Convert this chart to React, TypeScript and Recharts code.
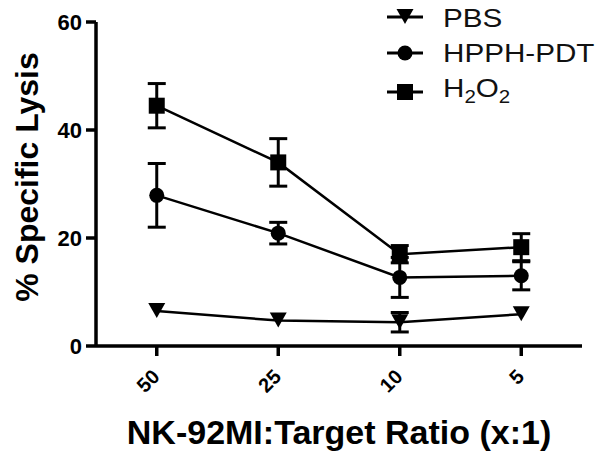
import React from 'react';
import { LineChart, Line, XAxis, YAxis, ErrorBar, Label } from 'recharts';

const ratios = ['50', '25', '10', '5'];
const pbs = [6.5, 4.7, 4.4, 5.9];
const pbsErr = [null, null, 1.8, null];
const hpph = [27.9, 20.9, 12.7, 13.0];
const hpphErr = [5.9, 2.0, 3.7, 2.6];
const h2o2 = [44.5, 34.0, 17.0, 18.3];
const h2o2Err = [4.1, 4.4, 1.6, 2.5];
const yTicks = [0, 20, 40, 60];
const seriesNames = ['PBS', 'HPPH-PDT', 'H2O2'];

const data = ratios.map((r, i) => ({
  ratio: r,
  pbs: pbs[i],
  pbsErr: pbsErr[i],
  hpph: hpph[i],
  hpphErr: hpphErr[i],
  h2o2: h2o2[i],
  h2o2Err: h2o2Err[i],
}));

const FONT = '"Liberation Sans", Arial, Helvetica, sans-serif';

const SquareMark = ({ cx, cy }: { cx: number; cy: number }) => (
  <rect x={cx - 8} y={cy - 8} width={16} height={16} fill="#000" />
);
const CircleMark = ({ cx, cy }: { cx: number; cy: number }) => (
  <circle cx={cx} cy={cy} r={7.5} fill="#000" />
);
const TriMark = ({ cx, cy }: { cx: number; cy: number }) => (
  <polygon points={`${cx - 8.5},${cy - 8} ${cx + 8.5},${cy - 8} ${cx},${cy + 7}`} fill="#000" />
);

const renderSquare = (p: any) => <SquareMark key={`sq-${p.index}`} cx={p.cx} cy={p.cy} />;
const renderCircle = (p: any) => <CircleMark key={`ci-${p.index}`} cx={p.cx} cy={p.cy} />;
const renderTri = (p: any) => <TriMark key={`tr-${p.index}`} cx={p.cx} cy={p.cy} />;

const XTick = (p: any) => {
  const x = p.x + 4;
  const y = p.y + 20;
  return (
    <text
      x={x}
      y={y}
      transform={`rotate(-45, ${x}, ${y})`}
      textAnchor="end"
      fontFamily={FONT}
      fontWeight="bold"
      fontSize={20}
      fill="#000"
    >
      {p.payload.value}
    </text>
  );
};

const XTitle = (p: any) => {
  const vb = p.viewBox;
  return (
    <text
      x={vb.x + vb.width / 2}
      y={vb.y + 98}
      textAnchor="middle"
      fontFamily={FONT}
      fontWeight="bold"
      fontSize={34}
      fill="#000"
    >
      NK-92MI:Target Ratio (x:1)
    </text>
  );
};

const YTitle = (p: any) => {
  const vb = p.viewBox;
  const x = 38;
  const y = vb.y + vb.height / 2 - 7;
  return (
    <text
      x={x}
      y={y}
      transform={`rotate(-90, ${x}, ${y})`}
      textAnchor="middle"
      fontFamily={FONT}
      fontWeight="bold"
      fontSize={32}
      fill="#000"
    >
      % Specific Lysis
    </text>
  );
};

const LegendBox = () => {
  const rows = [
    { name: seriesNames[0], mark: TriMark, my: 17, ty: 27 },
    { name: seriesNames[1], mark: CircleMark, my: 53, ty: 62 },
    { name: seriesNames[2], mark: SquareMark, my: 92, ty: 97 },
  ];
  return (
    <svg
      width={601}
      height={457}
      style={{ position: 'absolute', left: 0, top: 0, pointerEvents: 'none' }}
    >
      {rows.map((r, i) => {
        const M = r.mark;
        return (
          <g key={i}>
            <line x1={387} x2={423} y1={r.my} y2={r.my} stroke="#000" strokeWidth={3} />
            <M cx={405} cy={r.my} />
            <g transform={`translate(443, ${r.ty}) scale(1.14, 1)`}>
              <text x={0} y={0} fontFamily={FONT} fontSize={26} fill="#111">
                {r.name === 'H2O2' ? (
                  <>
                    H<tspan fontSize={18} dy={6}>2</tspan>
                    <tspan dy={-6}>O</tspan>
                    <tspan fontSize={18} dy={6}>2</tspan>
                  </>
                ) : (
                  r.name
                )}
              </text>
            </g>
          </g>
        );
      })}
    </svg>
  );
};

export default function App() {
  return (
    <div style={{ position: 'absolute', left: 0, top: 0, width: 601, height: 457, background: '#fff' }}>
      <LineChart
        width={601}
        height={457}
        data={data}
        margin={{ top: 22, right: 19, left: 0, bottom: 0 }}
      >
        <XAxis
          dataKey="ratio"
          scale="band"
          interval={0}
          height={111}
          axisLine={{ stroke: '#000', strokeWidth: 3.5 }}
          tickLine={{ stroke: '#000', strokeWidth: 3.5 }}
          tickSize={10}
          tick={<XTick />}
        >
          <Label content={<XTitle />} />
        </XAxis>
        <YAxis
          domain={[0, 60]}
          ticks={yTicks}
          width={96}
          axisLine={{ stroke: '#000', strokeWidth: 3.5 }}
          tickLine={{ stroke: '#000', strokeWidth: 3.5 }}
          tickSize={10}
          tickMargin={4}
          tick={{ fill: '#000', fontSize: 22, fontWeight: 'bold', fontFamily: FONT }}
        >
          <Label content={<YTitle />} />
        </YAxis>
        <Line
          dataKey="pbs"
          stroke="#000"
          strokeWidth={2.5}
          dot={renderTri}
          activeDot={false}
          isAnimationActive={false}
        >
          <ErrorBar dataKey="pbsErr" direction="y" width={9} stroke="#000" strokeWidth={3} />
        </Line>
        <Line
          dataKey="hpph"
          stroke="#000"
          strokeWidth={2.5}
          dot={renderCircle}
          activeDot={false}
          isAnimationActive={false}
        >
          <ErrorBar dataKey="hpphErr" direction="y" width={9} stroke="#000" strokeWidth={3} />
        </Line>
        <Line
          dataKey="h2o2"
          stroke="#000"
          strokeWidth={2.5}
          dot={renderSquare}
          activeDot={false}
          isAnimationActive={false}
        >
          <ErrorBar dataKey="h2o2Err" direction="y" width={9} stroke="#000" strokeWidth={3} />
        </Line>
      </LineChart>
      <LegendBox />
    </div>
  );
}
